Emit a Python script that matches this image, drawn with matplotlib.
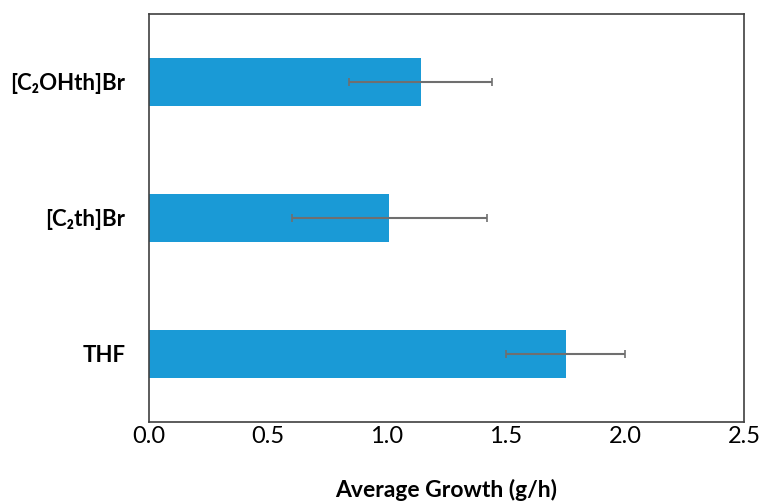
import matplotlib
matplotlib.use('Agg')
import matplotlib.pyplot as plt

plt.rcParams['font.family'] = ['Lato', 'DejaVu Sans']

# Average growth per solvent with error
solvents = ['THF', '[C₂th]Br', '[C₂OHth]Br']
growth = [1.751, 1.010, 1.142]
errors = [0.25, 0.41, 0.30]

fig = plt.figure(figsize=(7.61, 5.03), dpi=100)
ax = fig.add_axes([149 / 761, 1 - 422 / 503, 595 / 761, 408 / 503])

pos = range(len(solvents))
ax.barh(pos, growth, height=0.36, color='#1a9ad6',
        xerr=errors, error_kw=dict(ecolor='#6f6f6f', elinewidth=1.5, capsize=3, capthick=1.2))

ax.set_xlim(0, 2.5)
ax.set_ylim(-0.5, 2.5)
ax.set_yticks(list(pos))
ax.set_yticklabels(solvents, fontsize=16, fontweight='bold')
ax.set_xticks([0, 0.5, 1.0, 1.5, 2.0, 2.5])
ax.set_xticklabels(['0.0', '0.5', '1.0', '1.5', '2.0', '2.5'], fontsize=17)
ax.tick_params(length=0, pad=3, axis='x')
ax.tick_params(length=0, pad=17, axis='y')
ax.set_xlabel('Average Growth (g/h)', fontsize=16.5, fontweight='bold', labelpad=23)

for s in ax.spines.values():
    s.set_color('#404040')
    s.set_linewidth(1.2)

plt.savefig('out.png', dpi=100)
